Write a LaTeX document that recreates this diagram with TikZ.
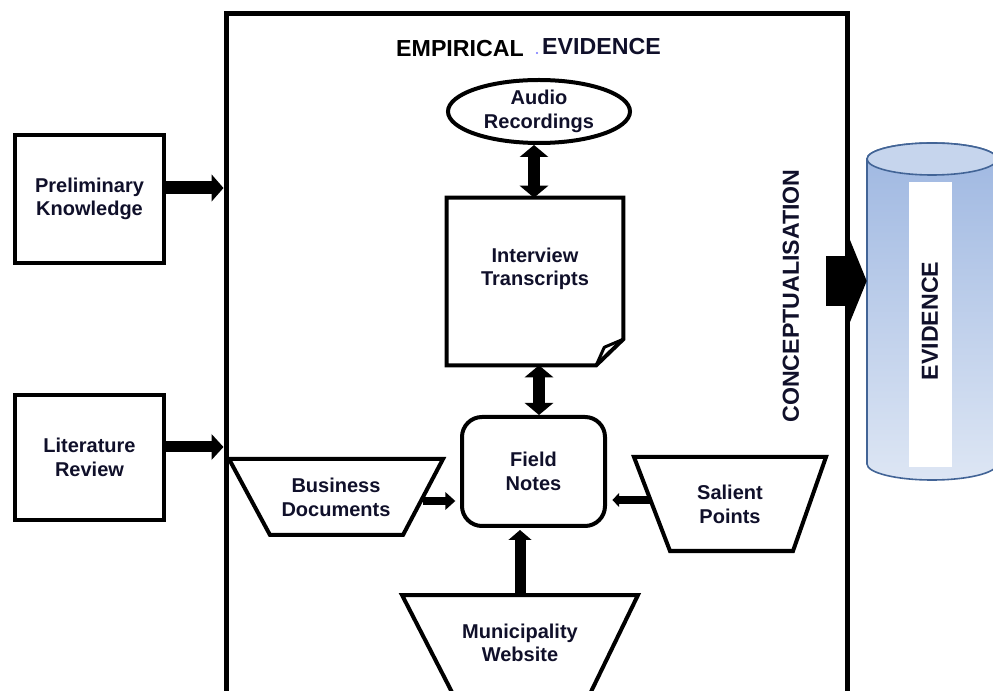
\documentclass[tikz,border=0pt]{standalone}
\usepackage{fontspec}
\setmainfont{Liberation Sans}
\usetikzlibrary{arrows.meta,calc,shapes.geometric}

\definecolor{ink}{RGB}{16,16,42}
\definecolor{cylline}{RGB}{66,100,150}
\definecolor{cyltop}{RGB}{198,213,237}
\definecolor{cyldark}{RGB}{158,183,225}
\definecolor{cyllight}{RGB}{221,230,244}

\tikzset{
  lbl/.style={font=\fontsize{15}{17.5}\selectfont\bfseries, text=ink, align=center, inner sep=0pt},
  ttl/.style={font=\fontsize{17.4}{20}\selectfont\bfseries, inner sep=0pt},
  outline/.style={draw=black, line width=3pt, fill=white, line join=miter},
  fatarrow/.style n args={3}{line width=#1, -{Triangle[width=#2,length=#3]}},
  fatboth/.style n args={3}{line width=#1, {Triangle[width=#2,length=#3]}-{Triangle[width=#2,length=#3]}},
}

\begin{document}
\begin{tikzpicture}[x=0.75pt,y=-0.75pt]
\useasboundingbox (0,0) rectangle (993,691);

% outer frame
\node[draw, line width=3.75pt, minimum width=465.75pt, minimum height=510.75pt, inner sep=0pt] (frame) at (536.5,354.5) {};

% title
\node[ttl, anchor=base] (titleA) at (460,57) {EMPIRICAL};
\node[ttl, anchor=base, text=ink] (titleB) at (601.5,55) {EVIDENCE};
\fill[blue!55] (537,53) circle[radius=0.9pt];

% inputs on the left
\node[outline, minimum width=111.75pt, minimum height=96pt, lbl] (prelim) at (89.5,199) {Preliminary\\Knowledge};
\node[outline, minimum width=111.75pt, minimum height=93.75pt, lbl] (lit) at (89.5,457.5) {Literature\\Review};

% audio recordings
\node[outline, ellipse, minimum width=136.5pt, minimum height=47.25pt, lbl] (audio) at (539,111.5) {Audio\\Recordings};

% interview transcripts (document with folded corner)
\node[minimum width=132pt, minimum height=125.25pt, inner sep=0pt] (interview) at (535,281.5) {};
\draw[outline] (interview.north west) -- (interview.north east)
  -- ($(interview.south east)+(0,-26)$) -- ($(interview.south east)+(-27,0)$)
  -- (interview.south west) -- cycle;
\draw[line width=2.25pt, line join=round] ($(interview.south east)+(-27,0)$)
  -- ($(interview.south east)+(-19,-18)$) -- ($(interview.south east)+(0,-26)$);
\node[lbl] (interviewtxt) at (535,269) {Interview\\Transcripts};

% field notes
\node[outline, rounded corners=15pt, minimum width=107.25pt, minimum height=81.75pt, lbl] (field) at (533.5,471.5) {Field\\Notes};

% business documents
\draw[outline] (229,459) -- (443,459) -- (403,535) -- (270,535) -- cycle;
\node[lbl] (business) at (336,497.5) {Business\\Documents};

% salient points
\draw[outline] (634,457) -- (826,457) -- (793,551) -- (670,551) -- cycle;
\node[lbl] (salient) at (730,504.5) {Salient\\Points};

% municipality website
\draw[outline] (402,595) -- (638,595) -- (587,700) -- (456,700) -- cycle;
\node[lbl] (municipality) at (520,643) {Municipality\\Website};

% evidence cylinder
\node[minimum width=97.5pt, minimum height=228.75pt, inner sep=0pt] (cyl) at (932,311.5) {};
\path[draw=cylline, line width=1.2pt, top color=cyldark, bottom color=cyllight]
  (867,159) -- (867,464) arc[start angle=180, end angle=360, x radius=48.75pt, y radius=12pt]
  -- (997,159) arc[start angle=0, end angle=180, x radius=48.75pt, y radius=12pt] -- cycle;
\draw[draw=cylline, line width=1.2pt, fill=cyltop] (932,159) ellipse[x radius=48.75pt, y radius=12pt];
\fill[white] (909,182) rectangle (952,467);
\node[ttl, rotate=90, text=ink] (evidence) at (930,321) {EVIDENCE};

\node[ttl, rotate=90, text=ink] (concept) at (791,296) {CONCEPTUALISATION};

% helper rows and columns for the connectors
\coordinate (rowP) at (0,188);
\coordinate (rowL) at (0,447);
\coordinate (colA) at (534,0);
\coordinate (colB) at (539,0);
\coordinate (busE) at (423,501);
\coordinate (salW) at (651,500);
\coordinate (munN) at (520,595);
\coordinate (concStart) at (826,281);

% connectors
\draw[fatarrow={9.75pt}{20pt}{9pt}] (prelim.east |- rowP) -- (frame.west |- rowP);
\draw[fatarrow={8.25pt}{19pt}{9pt}] (lit.east |- rowL) -- (frame.west |- rowL);
\draw[fatboth={9pt}{21pt}{9pt}] (colA |- audio.south) -- (colA |- interview.north);
\draw[fatboth={9pt}{21pt}{9pt}] (colB |- interview.south) -- (colB |- field.north);
\draw[fatarrow={6pt}{13pt}{7.5pt}, shorten >=3.5pt] (busE) -- (field.west |- busE);
\draw[fatarrow={6pt}{10pt}{5pt}, shorten >=4pt] (salW) -- (field.east |- salW);
\draw[fatarrow={8.25pt}{17pt}{7.5pt}, shorten >=1.5pt] (munN) -- (field.south -| munN);
\draw[fatarrow={37pt}{73pt}{15pt}] (concStart) -- (cyl.west |- concStart);
\end{tikzpicture}
\end{document}
